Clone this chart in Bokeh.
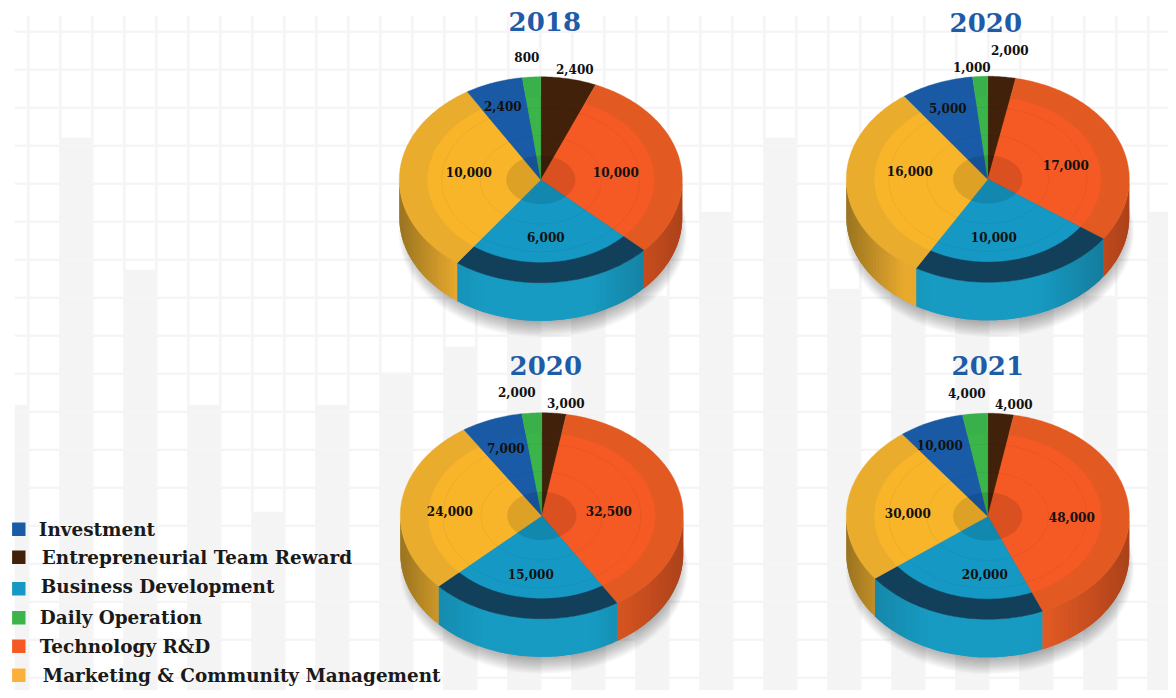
import numpy as np
from bokeh.core.properties import value
from bokeh.embed import file_html
from bokeh.models import ColumnDataSource, Range1d
from bokeh.plotting import figure
from bokeh.resources import INLINE

# ---- data ----
titles = ["2018", "2020", "2020", "2021"]
slice_names = ["Entrepreneurial Team Reward", "Technology R&D", "Business Development",
               "Marketing & Community Management", "Investment", "Daily Operation"]
values_a = [2400, 10000, 6000, 10000, 2400, 800]
values_b = [2000, 17000, 10000, 16000, 5000, 1000]
values_c = [3000, 32500, 15000, 24000, 7000, 2000]
values_d = [4000, 48000, 20000, 30000, 10000, 4000]
# The slices in the picture are not strictly proportional to their printed
# labels (Business Development is drawn larger), so the drawn sweeps are read too.
sweep_a = [22.8, 110.4, 83.0, 112.5, 23.8, 7.5]
sweep_b = [11.4, 113.9, 85.1, 113.4, 30.0, 6.2]
sweep_c = [10.0, 137.9, 78.9, 99.8, 25.3, 8.1]
sweep_d = [10.6, 146.7, 75.6, 90.0, 26.8, 10.3]
legend_labels = ["Investment", "Entrepreneurial Team Reward", "Business Development",
                 "Daily Operation", "Technology R&D", "Marketing & Community Management"]
backdrop_tops = [405, 138, 270, 405, 512, 405, 373, 347, 250, 250, 296, 212,
                 138, 289, 250, 250, 250, 296, 212]

# ---- layout and style ----
W, H = 1168, 690
NUDGE = 0.7
centers = [(541, 180), (988, 179.5), (542, 516), (988, 516.5)]
RX, RY, DEPTH, INNER = 141.5, 103.0, 38.0, 0.8
title_xy = [(545, 22), (986, 23), (546, 366), (988, 366)]
label_xy = [
    [(575, 69), (616, 172), (546, 237), (469, 172), (503, 106), (527, 57)],
    [(1010, 50), (1066, 165), (994, 237), (910, 171), (948, 108), (972, 67)],
    [(566, 403), (609, 511), (531, 574), (450, 511), (506, 448), (517, 392)],
    [(1014, 404), (1072, 517), (985, 574), (908, 513), (940, 445), (967, 393)],
]
outer_colors = ["#42210B", "#E25A22", "#123F5A", "#E9AC2D", "#1A5AA5", "#39B04A"]
inner_colors = ["#42210B", "#F55A25", "#1599C4", "#F9B52A", "#1A5BA8", "#3BB54A"]
legend_colors = ["#1A5BA8", "#42210B", "#1599C4", "#3BB54A", "#F55A25", "#FBB03B"]
legend_box_y = [529.5, 557.5, 589, 618, 646.5, 675.5]
legend_text_x = [39, 42, 41, 40, 40, 43]
legend_text_y = [530, 558, 587, 618, 647, 676]
GRID = "#F5F5F5"
SERIF = value("DejaVu Serif")


def lerp_stops(t, stops):
    xs = [s[0] for s in stops]
    rgb = [[int(s[1][i:i + 2], 16) for s in stops] for i in (1, 3, 5)]
    return "#%02X%02X%02X" % tuple(int(round(np.interp(t, xs, c))) for c in rgb)


wall_stops = {
    1: [(0.35, "#E55C24"), (0.75, "#C54C1E"), (1.0, "#AC421A")],
    2: [(-1.0, "#147F9F"), (-0.4, "#179BC2"), (0.35, "#179BC2"), (0.8, "#157E9E")],
    3: [(-1.0, "#9A7420"), (-0.59, "#E8A92D")],
}


def rim(cx, cy, angles, r=1.0):
    a = np.radians(angles)
    return cx + RX * r * np.sin(a), cy - RY * r * np.cos(a)


def wedge(cx, cy, t0, t1, r):
    x, y = rim(cx, cy, np.linspace(t0, t1, max(int(t1 - t0), 2) + 1), r)
    return [cx, *x], [cy, *y]


p = figure(width=W, height=H, x_range=Range1d(NUDGE, W + NUDGE), y_range=Range1d(H + NUDGE, NUDGE),
           output_backend="svg", toolbar_location=None, min_border=0,
           background_fill_color="white", border_fill_color="white", outline_line_color=None)
p.axis.visible = False
p.grid.visible = False

# backdrop: faint bar chart on a grid
left = [15] + [60.5 + 64 * i for i in range(len(backdrop_tops) - 1)]
right = [28.5] + [92.5 + 64 * i for i in range(len(backdrop_tops) - 2)] + [1176]
p.quad(left=left, right=right, top=backdrop_tops, bottom=700, fill_color="#F4F4F4", line_color=None)
vx = np.arange(28.5, 1176, 32.0)
p.segment(x0=vx, y0=16, x1=vx, y1=700, line_color=GRID, line_width=2.5)
hy = np.arange(32, 700, 38.0)
p.segment(x0=15, y0=hy, x1=1176, y1=hy, line_color=GRID, line_width=2.5)

all_values = [values_a, values_b, values_c, values_d]
all_sweeps = [sweep_a, sweep_b, sweep_c, sweep_d]

for idx, (cx, cy) in enumerate(centers):
    sweeps = all_sweeps[idx]
    edges = np.concatenate([[0], np.cumsum(sweeps)])

    # soft shadow under the disc
    for k in range(16):
        g = 0.93 + k * 0.006
        p.ellipse(x=cx + 2, y=cy + DEPTH + 6 + k * 0.6, width=2 * RX * g, height=2 * RY * g,
                  fill_color="#000000", fill_alpha=0.025, line_color=None)

    # outer wall, drawn as overlapping shaded strips
    xs, ys, cols = [], [], []
    for s in (1, 2, 3):
        t0, t1 = max(edges[s], 90.0), min(edges[s + 1], 270.0)
        if t1 <= t0:
            continue
        steps = np.linspace(t0, t1, int((t1 - t0) / 2) + 2)
        step = steps[1] - steps[0]
        for a0 in steps[:-1]:
            angs = np.linspace(a0, min(a0 + 2 * step, t1), 3)
            x, y = rim(cx, cy, angs)
            xs.append([*x, *x[::-1]])
            ys.append([*y, *(y[::-1] + DEPTH)])
            xm = rim(cx, cy, np.array([a0 + step / 2]))[0][0]
            cols.append(lerp_stops((xm - cx) / RX, wall_stops[s]))
    p.patches(xs, ys, fill_color=cols, line_color=None)

    # top face: outer band, then the raised inner disc
    xs, ys = zip(*[wedge(cx, cy, edges[i], edges[i + 1], 1.0) for i in range(6)])
    p.patches(list(xs), list(ys), fill_color=outer_colors, line_color=outer_colors, line_width=0.4)
    xs, ys = zip(*[wedge(cx, cy, edges[i], edges[i + 1], INNER) for i in range(6)])
    p.patches(list(xs), list(ys), fill_color=inner_colors, line_color=inner_colors, line_width=0.4)

    # faint rings and darker hub
    for r in (0.43, 0.70):
        p.ellipse(x=cx, y=cy, width=2 * RX * r, height=2 * RY * r, fill_color=None,
                  line_color="#000000", line_alpha=0.05, line_width=1)
    p.ellipse(x=cx, y=cy, width=2 * RX * 0.245, height=2 * RY * 0.235,
              fill_color="#000000", fill_alpha=0.11, line_color=None)

    # value labels
    src = ColumnDataSource(dict(
        x=[q[0] for q in label_xy[idx]],
        y=[q[1] for q in label_xy[idx]],
        t=[f"{v:,}" for v in all_values[idx]],
    ))
    p.text("x", "y", text="t", source=src, text_font=SERIF, text_font_style="bold",
           text_font_size="12px", text_color="#111111", text_align="center", text_baseline="middle")

# panel titles
p.text([q[0] for q in title_xy], [q[1] for q in title_xy], text=titles, text_font=SERIF,
       text_font_style="bold", text_font_size="26px", text_color="#1F5CA8",
       text_align="center", text_baseline="middle")

# legend
p.rect(x=[19] * 6, y=legend_box_y, width=13.4, height=13.4, fill_color=legend_colors, line_color=None)
p.text(legend_text_x, legend_text_y, text=legend_labels, text_font=SERIF, text_font_style="bold",
       text_font_size="18.4px", text_color="#1A1A1A", text_align="left", text_baseline="middle")

open("out.html", "w").write(file_html(p, INLINE))
